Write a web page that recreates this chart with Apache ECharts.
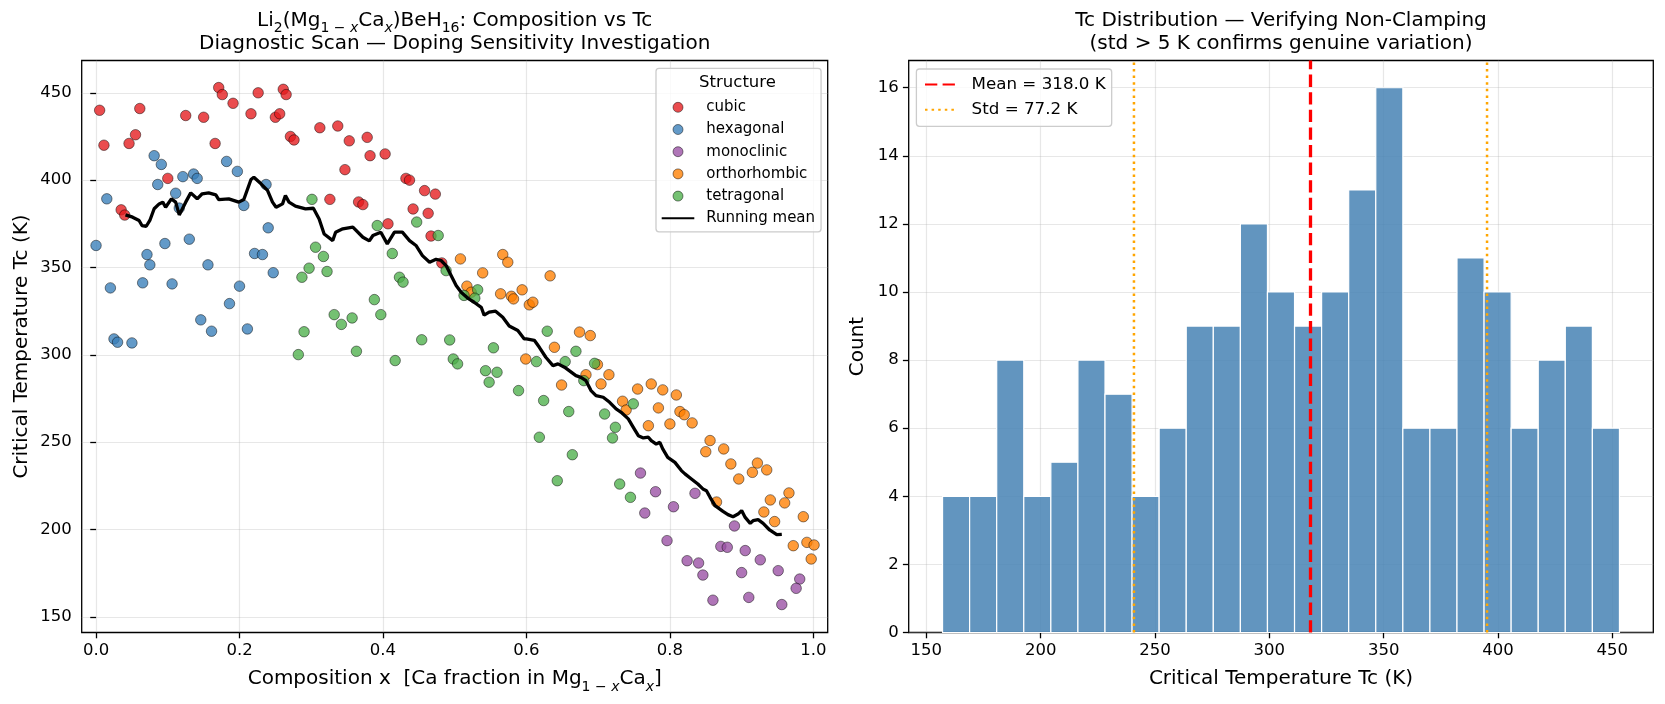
<!DOCTYPE html>
<html>
<head>
<meta charset="utf-8">
<title>Composition vs Tc</title>
<script src="https://cdn.jsdelivr.net/npm/echarts@6/dist/echarts.min.js"></script>
<style>
  html, body { margin: 0; padding: 0; background: #fff; }
  #chart { width: 1665px; height: 704px; }
</style>
</head>
<body>
<div id="chart"></div>
<script>
// ---------------------------------------------------------------------------
// Data: [composition x, Tc (K)]
// ---------------------------------------------------------------------------
const cubic = [
    [0.005, 440], [0.011, 420], [0.061, 441], [0.046, 421], [0.055, 426], [0.100, 401],
    [0.035, 383], [0.040, 380], [0.125, 437], [0.150, 436], [0.166, 421], [0.171, 453],
    [0.176, 449], [0.191, 444], [0.226, 450], [0.216, 438], [0.250, 436], [0.256, 438],
    [0.261, 452], [0.265, 449], [0.271, 425], [0.276, 423], [0.312, 430], [0.337, 431],
    [0.353, 422.5], [0.378, 424.5], [0.382, 414], [0.403, 415], [0.347, 406], [0.432, 401],
    [0.437, 400], [0.458, 394], [0.473, 392], [0.326, 389], [0.366, 387.5], [0.372, 386],
    [0.407, 375], [0.442, 383.5], [0.463, 381], [0.467, 368], [0.482, 352.6]
];
const hexagonal = [
    [0.081, 414], [0.091, 409], [0.086, 397.5], [0.121, 402], [0.136, 403.5], [0.141, 401],
    [0.111, 392.5], [0.116, 384], [0.182, 410.7], [0.197, 405], [0.237, 397.5], [0.206, 385.5],
    [0.240, 372.7], [0.015, 389.3], [0.000, 362.6], [0.096, 363.7], [0.130, 366.2], [0.071, 357.4],
    [0.075, 351.5], [0.156, 351.5], [0.221, 358], [0.232, 357.4], [0.247, 347], [0.020, 338.3],
    [0.065, 341.2], [0.106, 340.6], [0.200, 339.3], [0.186, 329.3], [0.146, 320], [0.161, 313.5],
    [0.211, 314.8], [0.025, 309.1], [0.030, 307.2], [0.050, 306.8]
];
const monoclinic = [
    [0.759, 232.3], [0.780, 221.6], [0.835, 220.7], [0.765, 209.4], [0.805, 213], [0.890, 202],
    [0.796, 193.6], [0.871, 190.3], [0.880, 189.8], [0.905, 187.9], [0.926, 182.6], [0.824, 182.1],
    [0.840, 180.8], [0.846, 173.9], [0.900, 175.3], [0.951, 176.4], [0.860, 159.5], [0.910, 161.1],
    [0.981, 171.6], [0.976, 166.3], [0.956, 157]
];
const orthorhombic = [
    [0.508, 354.9], [0.567, 357.4], [0.574, 353], [0.539, 346.9], [0.633, 345.2], [0.517, 339.3],
    [0.523, 335.8], [0.564, 334.9], [0.579, 333.5], [0.582, 332], [0.594, 337.2], [0.604, 328.6],
    [0.609, 330.1], [0.674, 313], [0.689, 311], [0.639, 304.3], [0.599, 297.6], [0.699, 294.4],
    [0.683, 288.6], [0.715, 288.6], [0.704, 283.3], [0.649, 282.7], [0.755, 280.4], [0.774, 283.3],
    [0.790, 279.9], [0.809, 277], [0.734, 273.4], [0.739, 268.4], [0.784, 269.6], [0.814, 267.5],
    [0.820, 265.7], [0.831, 261], [0.770, 259.4], [0.800, 260.4], [0.856, 250.9], [0.850, 244.5],
    [0.875, 246.1], [0.885, 237.5], [0.896, 228.9], [0.922, 238], [0.915, 232.7], [0.935, 234.1],
    [0.865, 215.7], [0.940, 216.9], [0.931, 210], [0.946, 204.5], [0.966, 220.9], [0.960, 215.2],
    [0.986, 207.3], [0.972, 190.7], [0.991, 192.6], [1.001, 191.1], [0.997, 183.1]
];
const tetragonal = [
    [0.301, 389], [0.392, 374], [0.447, 376], [0.477, 368.3], [0.306, 361.6], [0.317, 356.3],
    [0.322, 347.7], [0.297, 349.6], [0.287, 344.4], [0.413, 358], [0.423, 344.4], [0.428, 341.6],
    [0.388, 331.6], [0.397, 323], [0.332, 323], [0.342, 317.4], [0.357, 321.1], [0.290, 313.2],
    [0.282, 300.1], [0.363, 302], [0.417, 296.7], [0.454, 308.6], [0.488, 348.2], [0.493, 308.5],
    [0.554, 304], [0.513, 334], [0.532, 337.2], [0.528, 332.4], [0.629, 313.5], [0.669, 302],
    [0.498, 297.6], [0.504, 294.8], [0.543, 290.9], [0.559, 290], [0.548, 284.3], [0.589, 279.5],
    [0.614, 296.1], [0.654, 296.1], [0.680, 285.2], [0.695, 295.1], [0.624, 273.8], [0.659, 267.5],
    [0.618, 252.8], [0.664, 242.8], [0.643, 227.9], [0.709, 266.1], [0.724, 258.5], [0.720, 252.4],
    [0.749, 271.9], [0.730, 226], [0.745, 218.4]
];

// running mean curve
const runningMean = [
    [0.041, 380.1], [0.051, 378.8], [0.060, 376.9], [0.064, 374.0], [0.070, 373.6], [0.075, 376.9],
    [0.081, 383.6], [0.088, 386.4], [0.093, 387.4], [0.097, 384.5], [0.105, 389.3], [0.111, 387.4],
    [0.116, 380.1], [0.125, 387.4], [0.132, 392.7], [0.141, 389.3], [0.148, 392.2], [0.157, 392.7],
    [0.167, 391.6], [0.171, 388.9], [0.185, 389.3], [0.199, 387.4], [0.206, 388.9], [0.216, 400.4],
    [0.220, 401.7], [0.230, 397.9], [0.239, 394.1], [0.246, 387.4], [0.251, 384.5], [0.260, 386.4],
    [0.264, 391.2], [0.269, 387.4], [0.278, 385.1], [0.292, 383.6], [0.303, 383.9], [0.311, 377.8],
    [0.318, 369.2], [0.330, 365.4], [0.334, 370.2], [0.344, 372.1], [0.358, 373.1], [0.372, 367.3],
    [0.381, 365.2], [0.386, 368.3], [0.397, 370.2], [0.406, 363.5], [0.416, 370.2], [0.427, 370.2],
    [0.437, 365.4], [0.446, 362.6], [0.455, 356.8], [0.465, 353.0], [0.474, 354.7], [0.481, 354.0],
    [0.488, 351.1], [0.495, 345.4], [0.502, 339.7], [0.509, 335.8], [0.518, 332.5], [0.527, 330.1],
    [0.537, 327.2], [0.541, 322.7], [0.548, 324.4], [0.557, 325.0], [0.567, 321.5], [0.576, 316.5],
    [0.588, 313.9], [0.597, 309.1], [0.600, 309.1], [0.611, 308.3], [0.618, 304.3], [0.627, 298.6],
    [0.637, 293.8], [0.644, 294.8], [0.653, 292.9], [0.669, 288.1], [0.676, 287.1], [0.683, 285.2],
    [0.690, 279.5], [0.697, 276.6], [0.707, 275.7], [0.716, 272.8], [0.725, 269.0], [0.732, 267.1],
    [0.742, 263.3], [0.749, 258.5], [0.756, 253.7], [0.763, 252.4], [0.770, 252.8], [0.774, 250.9],
    [0.781, 248.9], [0.786, 249.9], [0.790, 246.1], [0.797, 241.3], [0.807, 238.4], [0.816, 233.7],
    [0.821, 231.8], [0.830, 228.9], [0.839, 226.0], [0.846, 223.2], [0.851, 222.2], [0.856, 218.4],
    [0.863, 213.6], [0.874, 210.4], [0.881, 208.5], [0.888, 207.3], [0.895, 208.8], [0.900, 210.8],
    [0.905, 206.9], [0.912, 203.5], [0.916, 205.0], [0.923, 205.6], [0.930, 203.5], [0.939, 199.7],
    [0.949, 197.0], [0.956, 197.2]
];

// histogram of Tc
const tcBinStart = 157.1;
const tcBinWidth = 11.84;
const tcCounts = [4, 4, 8, 4, 5, 8, 7, 4, 6, 9, 9, 12, 10, 9, 10, 13, 16, 6, 6, 11, 10, 6, 8, 9, 6];
const tcMean = 318.0;
const tcStd = 77.2;

// tick labels
const compTicks = [0, 0.2, 0.4, 0.6, 0.8, 1.0];
const tcTicks = [150, 200, 250, 300, 350, 400, 450];
const countTicks = [0, 2, 4, 6, 8, 10, 12, 14, 16];

// ---------------------------------------------------------------------------
const FONT = 'DejaVu Sans';
const colors = {
    cubic: '#e41a1c',
    hexagonal: '#377eb8',
    monoclinic: '#984ea3',
    orthorhombic: '#ff7f00',
    tetragonal: '#4daf4a',
    bar: 'rgba(70,130,180,0.85)'
};
const gridLine = { show: true, lineStyle: { color: 'rgba(176,176,176,0.3)', width: 1.2 } };
const tickStyle = { color: '#000', width: 1.3 };
const countMax = 16.8;

function valueAxis(gridIndex, min, max, ticks, fmt) {
    return {
        type: 'value', gridIndex: gridIndex, min: min, max: max,
        axisLine: { show: false },
        axisTick: { show: true, length: 5.8, customValues: ticks, lineStyle: tickStyle },
        axisLabel: {
            customValues: ticks, margin: 10, fontSize: 16.5, fontFamily: FONT, color: '#000',
            formatter: fmt || (v => String(v))
        },
        splitLine: gridLine
    };
}

function scatter(name, data) {
    return {
        name: name, type: 'scatter', xAxisIndex: 0, yAxisIndex: 0,
        data: data, symbolSize: 10.5,
        itemStyle: { color: colors[name], opacity: 0.78, borderColor: '#000', borderWidth: 0.6 }
    };
}

function vline(name, x, style) {
    return {
        name: name, type: 'line', xAxisIndex: 1, yAxisIndex: 1, z: 5,
        data: [[x, 0], [x, countMax]], symbol: 'none', silent: true,
        lineStyle: style, itemStyle: { color: style.color }
    };
}

const meanName = 'Mean = ' + tcMean.toFixed(1) + ' K';
const stdName = 'Std = ' + tcStd.toFixed(1) + ' K';
const meanStyle = { color: '#ff0000', width: 3.3, type: [12.3, 5.3] };
const stdStyle = { color: '#ffa500', width: 2.5, type: [2.5, 4.1] };

const histData = tcCounts.map((c, i) => [tcBinStart + i * tcBinWidth, tcBinStart + (i + 1) * tcBinWidth, c]);

// title / label rich styles (mathtext-like subscripts)
const main = { fontSize: 20, fontFamily: FONT, fill: '#000', lineHeight: 30 };
const sub = { fontSize: 14, fontFamily: FONT, fill: '#000', lineHeight: 30, verticalAlign: 'bottom' };
const subIt = Object.assign({}, sub, { fontStyle: 'italic' });

function label(text, x, y, size, rot) {
    return {
        type: 'text', x: x, y: y, rotation: rot || 0, z: 10,
        style: { text: text, fontSize: size, fontFamily: FONT, fill: '#000', align: 'center', verticalAlign: 'middle' }
    };
}

function richLabel(text, x, y) {
    return {
        type: 'text', x: x, y: y, z: 10,
        style: { text: text, align: 'center', verticalAlign: 'middle', rich: { n: main, s: sub, si: subIt } }
    };
}

const chart = echarts.init(document.getElementById('chart'));
const option = {
    animation: false,
    backgroundColor: '#fff',
    grid: [
        { left: 81.7, top: 60.5, width: 746, height: 572, show: true, borderColor: '#000', borderWidth: 1.3 },
        { left: 908.7, top: 60.5, width: 744.6, height: 572, show: true, borderColor: '#000', borderWidth: 1.3 }
    ],
    xAxis: [
        valueAxis(0, -0.02, 1.02, compTicks, v => v.toFixed(1)),
        valueAxis(1, 142.3, 467.9, tcTicks)
    ],
    yAxis: [
        valueAxis(0, 141, 468.5, tcTicks),
        valueAxis(1, 0, countMax, countTicks)
    ],
    legend: [
        {
            orient: 'vertical', left: 656, top: 68.3, padding: [31.5, 6, 6, 4.7],
            itemWidth: 32.6, itemHeight: 10, itemGap: 7.2, selectedMode: false,
            backgroundColor: 'rgba(255,255,255,0.8)', borderColor: '#cccccc', borderWidth: 1.3, borderRadius: 3,
            textStyle: { fontSize: 15, fontFamily: FONT, color: '#000', lineHeight: 15, padding: [0, 0, 0, 7] },
            itemStyle: { borderColor: '#000', borderWidth: 0.6 },
            data: ['cubic', 'hexagonal', 'monoclinic', 'orthorhombic', 'tetragonal',
                { name: 'Running mean', itemStyle: { opacity: 0 } }]
        },
        {
            orient: 'vertical', left: 916.4, top: 69, padding: [7, 6, 8, 7.6],
            itemWidth: 31, itemHeight: 10, itemGap: 8.3, selectedMode: false,
            backgroundColor: 'rgba(255,255,255,0.8)', borderColor: '#cccccc', borderWidth: 1.3, borderRadius: 3,
            textStyle: { fontSize: 16.7, fontFamily: FONT, color: '#000', lineHeight: 16.7, padding: [0, 0, 0, 10.6] },
            itemStyle: { opacity: 0 },
            data: [meanName, stdName]
        }
    ],
    graphic: [
        richLabel('{n|Li}{s|2}{n|(Mg}{s|1 − }{si|x}{n|Ca}{si|x}{n|)BeH}{s|16}{n|: Composition vs Tc}', 454.7, 20.5),
        label('Diagnostic Scan — Doping Sensitivity Investigation', 454.7, 43.5, 20),
        label('Tc Distribution — Verifying Non-Clamping', 1281, 20.5, 20),
        label('(std > 5 K confirms genuine variation)', 1281, 43.5, 20),
        richLabel('{n|Composition x  [Ca fraction in Mg}{s|1 − }{si|x}{n|Ca}{si|x}{n|]}', 454.7, 679),
        label('Critical Temperature Tc (K)', 22, 346.5, 20, Math.PI / 2),
        label('Critical Temperature Tc (K)', 1281, 679, 20),
        label('Count', 858, 346.5, 20, Math.PI / 2),
        label('Structure', 737.5, 82.3, 16.5)
    ],
    series: [
        scatter('cubic', cubic),
        scatter('hexagonal', hexagonal),
        scatter('monoclinic', monoclinic),
        scatter('orthorhombic', orthorhombic),
        scatter('tetragonal', tetragonal),
        {
            name: 'Running mean', type: 'line', xAxisIndex: 0, yAxisIndex: 0, z: 4,
            data: runningMean, symbol: 'none', silent: true,
            lineStyle: { color: '#000', width: 3.3 }, itemStyle: { color: '#000' }
        },
        {
            name: 'Tc histogram', type: 'custom', xAxisIndex: 1, yAxisIndex: 1,
            data: histData, encode: { x: [0, 1], y: 2 },
            renderItem: function (params, api) {
                const p0 = api.coord([api.value(0), api.value(2)]);
                const p1 = api.coord([api.value(1), 0]);
                return {
                    type: 'rect',
                    shape: { x: p0[0], y: p0[1], width: p1[0] - p0[0], height: p1[1] - p0[1] },
                    style: { fill: colors.bar, stroke: '#ffffff', lineWidth: 1.2 }
                };
            }
        },
        vline(meanName, tcMean, meanStyle),
        vline(stdName, tcMean - tcStd, stdStyle),
        vline(stdName, tcMean + tcStd, stdStyle)
    ]
};
chart.setOption(option);
</script>
</body>
</html>
